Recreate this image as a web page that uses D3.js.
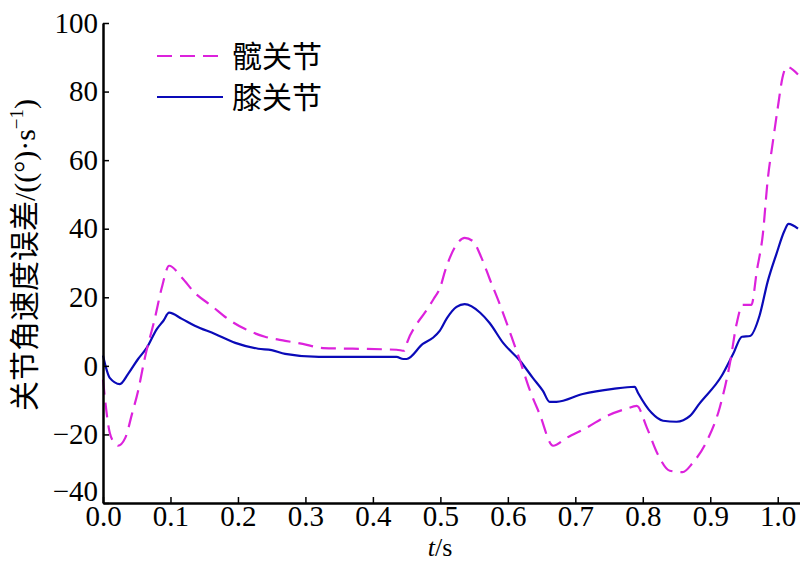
<!DOCTYPE html>
<html>
<head>
<meta charset="utf-8">
<script src="https://d3js.org/d3.v7.min.js"></script>
<style>
  body { margin: 0; background: #fff; }
  text { font-family: "Liberation Serif", "Times New Roman", "Noto Sans CJK SC", serif; }
</style>
</head>
<body>
<div id="my_dataviz"></div>
<script>
// tick values
var xTicks = [0.0, 0.1, 0.2, 0.3, 0.4, 0.5, 0.6, 0.7, 0.8, 0.9, 1.0];
var yTicks = [-40, -20, 0, 20, 40, 60, 80, 100];

// series names
var seriesNames = ["髋关节", "膝关节"];

// hip joint (dashed magenta)
var hipT = [0, 0.01, 0.018, 0.022, 0.033, 0.043, 0.052, 0.062, 0.077, 0.087, 0.098, 0.117, 0.136, 0.161, 0.185, 0.21, 0.24, 0.27, 0.296, 0.326, 0.37, 0.435, 0.447, 0.45, 0.465, 0.477, 0.49, 0.5, 0.507, 0.514, 0.526, 0.536, 0.548, 0.561, 0.573, 0.588, 0.606, 0.618, 0.633, 0.647, 0.667, 0.687, 0.717, 0.747, 0.776, 0.791, 0.806, 0.822, 0.84, 0.859, 0.874, 0.895, 0.914, 0.929, 0.939, 0.948, 0.961, 0.969, 0.978, 0.985, 0.993, 1.0, 1.007, 1.013, 1.03];
var hipV = [-4, -19.5, -22.7, -23.3, -21, -14, -7.3, 2.3, 14, 22.7, 29.2, 25.7, 21.3, 17.5, 13.7, 10.8, 8.5, 7.3, 6.4, 5.2, 5, 4.7, 4.4, 6.4, 12.2, 15.5, 19.5, 23, 27.7, 31.5, 35.9, 37.3, 36.4, 31.5, 25.4, 18, 8.2, 1.5, -7.3, -14, -23.3, -21, -18, -14.6, -12.5, -11.7, -18, -25.7, -30.6, -31, -28.3, -21.9, -12.2, 0.6, 12.2, 17.8, 17.8, 27.7, 38.5, 54, 65.6, 75.2, 84, 87.2, 85];

// knee joint (solid blue)
var kneeT = [0, 0.01, 0.025, 0.037, 0.052, 0.065, 0.08, 0.089, 0.098, 0.117, 0.136, 0.166, 0.196, 0.23, 0.25, 0.27, 0.32, 0.435, 0.445, 0.45, 0.474, 0.489, 0.499, 0.51, 0.524, 0.536, 0.559, 0.573, 0.593, 0.618, 0.637, 0.652, 0.662, 0.672, 0.711, 0.756, 0.788, 0.793, 0.813, 0.83, 0.85, 0.87, 0.884, 0.917, 0.934, 0.947, 0.959, 0.973, 0.985, 0.998, 1.01, 1.016, 1.03];
var kneeV = [3, -3.5, -5.3, -2.4, 2, 5.3, 10.8, 13, 15.5, 13.7, 11.7, 9.3, 6.7, 5, 4.6, 3.5, 2.6, 2.6, 2, 2, 6.4, 8.2, 10.2, 14, 17.2, 18, 15.5, 12.5, 6.7, 1.5, -3.5, -7.3, -10.5, -10.5, -8.2, -6.7, -6.1, -7.9, -13.7, -16, -16.3, -14.6, -11, -2.9, 3.5, 8.5, 8.7, 14.6, 24.5, 32.6, 39.4, 41.4, 40];

var width = 800, height = 563;

var svg = d3.select("#my_dataviz")
    .append("svg")
    .attr("width", width)
    .attr("height", height);

var x = d3.scaleLinear()
    .domain([0, 1.033])
    .range([103, 800]);

var y = d3.scaleLinear()
    .domain([-40, 100])
    .range([503, 23]);

// curves
var line = d3.line()
    .x(function(d) { return x(d[0]); })
    .y(function(d) { return y(d[1]); })
    .curve(d3.curveMonotoneX);

svg.append("path")
    .datum(d3.zip(kneeT, kneeV))
    .attr("d", line)
    .attr("fill", "none")
    .attr("stroke", "#0a0ab8")
    .attr("stroke-width", 2.2);

svg.append("path")
    .datum(d3.zip(hipT, hipV))
    .attr("d", line)
    .attr("fill", "none")
    .attr("stroke", "#dc22dc")
    .attr("stroke-width", 2.2)
    .attr("stroke-dasharray", "15,8");

// axes, ticks point inward
var xAxis = svg.append("g")
    .attr("transform", "translate(0," + y(-40) + ")")
    .call(d3.axisBottom(x)
        .tickValues(xTicks)
        .tickFormat(d3.format(".1f"))
        .tickSizeInner(-6)
        .tickSizeOuter(0)
        .tickPadding(2));

var yAxis = svg.append("g")
    .attr("transform", "translate(" + x(0) + ",0)")
    .call(d3.axisLeft(y)
        .tickValues(yTicks)
        .tickFormat(function(d) { return d < 0 ? "\u2212" + Math.abs(d) : d; })
        .tickSizeInner(-6)
        .tickSizeOuter(0)
        .tickPadding(5));

[xAxis, yAxis].forEach(function(g) {
    g.select(".domain").attr("stroke", "#000").attr("stroke-width", 2.5);
    g.selectAll(".tick line").attr("stroke", "#000").attr("stroke-width", 1.5);
    g.selectAll(".tick text")
        .attr("fill", "#000")
        .style("font-size", "29px")
        .style("font-family", "'Liberation Serif', 'Times New Roman', serif");
});

// lowest y label sits above the x axis
yAxis.selectAll(".tick text")
    .filter(function(d) { return d === -40; })
    .attr("dy", "-0.1em");

// axis titles
svg.append("text")
    .attr("x", 440)
    .attr("y", 556)
    .attr("text-anchor", "middle")
    .style("font-size", "26px")
    .html('<tspan font-style="italic">t</tspan>/s');

var yTitle = svg.append("text")
    .attr("transform", "translate(35,255) rotate(-90)")
    .attr("text-anchor", "middle")
    .style("font-size", "30px");
yTitle.append("tspan").text("关节角速度误差/((°)·s");
yTitle.append("tspan").attr("dy", -12).style("font-size", "19px").text("\u22121");
yTitle.append("tspan").attr("dy", 12).text(")");

// legend
var legend = svg.append("g");
var legendY = [56, 97];
seriesNames.forEach(function(name, i) {
    legend.append("line")
        .attr("x1", 157).attr("x2", 223)
        .attr("y1", legendY[i]).attr("y2", legendY[i])
        .attr("stroke", i === 0 ? "#dc22dc" : "#0a0ab8")
        .attr("stroke-width", 2.2)
        .attr("stroke-dasharray", i === 0 ? "15,8" : null);
    legend.append("text")
        .attr("x", 232)
        .attr("y", legendY[i])
        .attr("dy", "0.36em")
        .style("font-size", "30px")
        .style("font-family", "'Noto Sans CJK SC', sans-serif")
        .text(name);
});
</script>
</body>
</html>
